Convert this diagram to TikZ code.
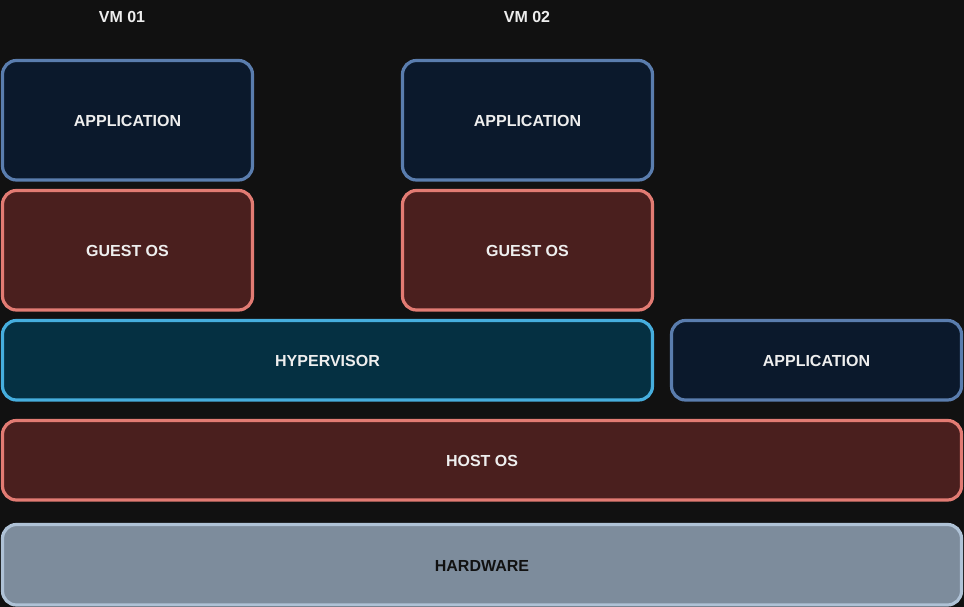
\documentclass[tikz,border=0pt]{standalone}
\usepackage{fontspec}
\setmainfont{Liberation Sans}
\definecolor{bg}{HTML}{111111}
\definecolor{appfill}{HTML}{0B192C}
\definecolor{appdraw}{HTML}{5A7DAE}
\definecolor{osfill}{HTML}{4A1F1E}
\definecolor{osdraw}{HTML}{E27B73}
\definecolor{hypfill}{HTML}{053042}
\definecolor{hypdraw}{HTML}{46AEDE}
\definecolor{hwfill}{HTML}{7D8C9C}
\definecolor{hwdraw}{HTML}{AFC2D6}
\definecolor{txt}{HTML}{EEEEEE}
\begin{document}
\begin{tikzpicture}[x=1pt,y=-1pt,
  layer/.style={rounded corners=14pt,line width=3.2pt,font=\fontsize{16}{19}\selectfont\bfseries,text=txt},
  appbox/.style={layer,fill=appfill,draw=appdraw},
  osbox/.style={layer,fill=osfill,draw=osdraw},
  hypbox/.style={layer,fill=hypfill,draw=hypdraw},
  hwbox/.style={layer,fill=hwfill,draw=hwdraw,text=bg},
  vmlabel/.style={font=\fontsize{16}{19}\selectfont\bfseries,text=txt}]
\fill[bg] (0,0) rectangle (964,607);
\useasboundingbox (0,0) rectangle (964,607);
\node[vmlabel] (vm1) at (122,16.5) {VM 01};
\node[vmlabel] (vm2) at (527,16.5) {VM 02};
\draw[appbox] (2.5,60.5) rectangle (252.5,180) node[midway,yshift=-1pt] (app1) {APPLICATION};
\draw[osbox] (2.5,190.5) rectangle (252.5,310) node[midway,yshift=-1pt] (guest1) {GUEST OS};
\draw[appbox] (402.5,60.5) rectangle (652.5,180) node[midway,yshift=-1pt] (app2) {APPLICATION};
\draw[osbox] (402.5,190.5) rectangle (652.5,310) node[midway,yshift=-1pt] (guest2) {GUEST OS};
\draw[hypbox] (2.5,320.5) rectangle (652.5,400) node[midway,yshift=-1pt] (hyp) {HYPERVISOR};
\draw[appbox] (671.5,320.5) rectangle (961.5,400) node[midway,yshift=-1pt] (app3) {APPLICATION};
\draw[osbox] (2.5,420.5) rectangle (961.5,500) node[midway,yshift=-1pt] (host) {HOST OS};
\draw[hwbox] (2.5,524.5) rectangle (961.5,605) node[midway,yshift=-1pt] (hw) {HARDWARE};
\end{tikzpicture}
\end{document}
